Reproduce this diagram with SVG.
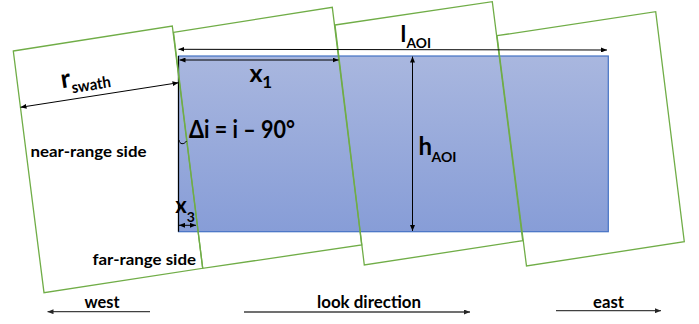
<svg xmlns="http://www.w3.org/2000/svg" width="699" height="324" viewBox="0 0 699 324">
<defs>
<linearGradient id="aoiFill" x1="0" y1="0" x2="0" y2="1">
<stop offset="0" stop-color="#a9b7df"/>
<stop offset="1" stop-color="#879dd7"/>
</linearGradient>
<marker id="ah" viewBox="0 0 6 5" refX="6" refY="2.5" markerWidth="6" markerHeight="5" markerUnits="userSpaceOnUse" orient="auto-start-reverse">
<path d="M0,0 L6,2.5 L0,5 z" fill="#000"/>
</marker>
<marker id="ahg" viewBox="0 0 6 5" refX="6" refY="2.5" markerWidth="6" markerHeight="5" markerUnits="userSpaceOnUse" orient="auto-start-reverse">
<path d="M0,0 L6,2.5 L0,5 z" fill="#262626"/>
</marker>
</defs>
<style>
.sw{fill:none;stroke:#70ad47;stroke-width:1.3;stroke-linejoin:miter}
.ar{fill:none;stroke:#000;stroke-width:1}
.dir{fill:none;stroke:#404040;stroke-width:1.3}
text{font-family:"Lato","Open Sans","Liberation Sans",sans-serif;font-weight:bold;fill:#000}
</style>

<g id="aoi">
<rect x="178.5" y="56" width="429.8" height="175.7" fill="url(#aoiFill)" stroke="#4472c4" stroke-width="1.2"/>
<line x1="178.5" y1="56" x2="178.5" y2="231.7" stroke="#000" stroke-width="1.2"/>
</g>

<g id="swath1"><polygon class="sw" points="13.3,51 172.3,26 202.7,268.3 44,292.7"/></g>
<g id="swath2"><polygon class="sw" points="173.5,32.3 332.3,7.3 361.7,245 202.7,268.3"/></g>
<g id="swath3"><polygon class="sw" points="335,25 492.3,1.7 522.7,240.7 364.3,265"/></g>
<g id="swath4"><polygon class="sw" points="497,35.7 655.7,11.7 684.3,241.7 526.5,266"/></g>

<g id="connectors">
<line class="ar" x1="178.5" y1="49.3" x2="607" y2="50" marker-start="url(#ah)" marker-end="url(#ah)"/>
<line class="ar" x1="179.5" y1="60" x2="338.5" y2="60" marker-start="url(#ah)" marker-end="url(#ah)"/>
<line class="ar" x1="412.5" y1="56.5" x2="412.5" y2="231" marker-start="url(#ah)" marker-end="url(#ah)"/>
<line class="ar" x1="20.5" y1="107.3" x2="178.5" y2="82.7" marker-start="url(#ah)" marker-end="url(#ah)"/>
<line class="ar" x1="179" y1="225.3" x2="196" y2="225.3" marker-start="url(#ah)" marker-end="url(#ah)"/>
<path class="ar" d="M179,140 C179.5,144.5 184,145 186.5,141" stroke-width="1.2"/>
<line class="dir" x1="47.5" y1="311.7" x2="150" y2="311.7" marker-start="url(#ahg)"/>
<line class="dir" x1="244" y1="312" x2="470" y2="312" marker-end="url(#ahg)"/>
<line class="dir" x1="556" y1="310.7" x2="661" y2="310.7" marker-end="url(#ahg)"/>
</g>

<g id="labels">
<g id="l_aoi"><text x="400.5" y="41.7" font-size="23">l</text><text x="406.5" y="47.7" font-size="13" textLength="24.5" lengthAdjust="spacingAndGlyphs">AOI</text></g>
<g id="h_aoi"><text x="418.5" y="155" font-size="24">h</text><text x="431.5" y="161.7" font-size="14" textLength="25" lengthAdjust="spacingAndGlyphs">AOI</text></g>
<g id="x1"><text x="249.5" y="81.7" font-size="25">x</text><text x="262.3" y="88.3" font-size="17">1</text></g>
<g id="x3"><text x="175.2" y="213.3" font-size="22">x</text><text x="186.8" y="221.7" font-size="14">3</text></g>
<g id="r_swath" transform="translate(62,88.3) rotate(-9)"><text x="0" y="0" font-size="26">r</text><text x="9.5" y="6.5" font-size="16" textLength="39.5" lengthAdjust="spacingAndGlyphs">swath</text></g>
<g id="delta_i"><text x="189" y="138.3" font-size="24" textLength="106" lengthAdjust="spacingAndGlyphs">Δi = i – 90°</text></g>
<g id="near_range"><text x="30.5" y="156.7" font-size="16" textLength="116" lengthAdjust="spacingAndGlyphs">near-range side</text></g>
<g id="far_range"><text x="92.5" y="265" font-size="16" textLength="103.5" lengthAdjust="spacingAndGlyphs">far-range side</text></g>
<g id="west"><text x="84.5" y="308.3" font-size="17" textLength="35" lengthAdjust="spacingAndGlyphs">west</text></g>
<g id="look"><text x="317" y="308.3" font-size="17" textLength="104" lengthAdjust="spacingAndGlyphs">look direction</text></g>
<g id="east"><text x="593" y="308.3" font-size="17" textLength="31" lengthAdjust="spacingAndGlyphs">east</text></g>
</g>
</svg>
